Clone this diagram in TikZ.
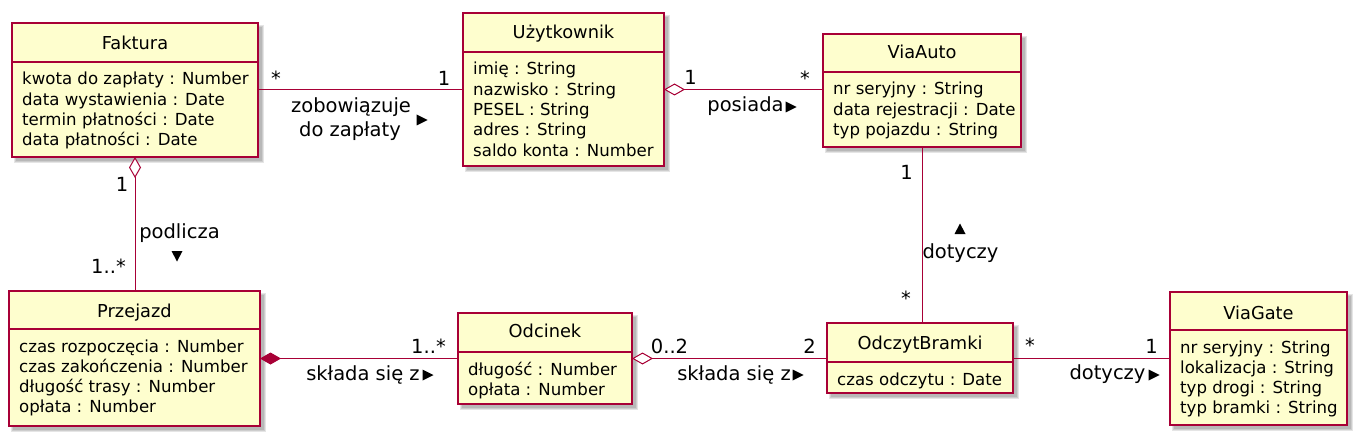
\documentclass[tikz,border=0pt]{standalone}
\usepackage{fontspec}
\setmainfont{DejaVu Sans}
\usetikzlibrary{arrows.meta}
\definecolor{umlred}{HTML}{A80036}
\definecolor{umlfill}{HTML}{FEFECE}
\tikzset{
  classbox/.style={draw=umlred, fill=umlfill, line width=1.5pt, inner sep=0pt, outer sep=0pt},
  divider/.style={draw=umlred, line width=1.5pt},
  titletext/.style={font=\fontsize{17.8}{20}\selectfont, inner sep=0pt, anchor=base},
  attrtext/.style={font=\fontsize{16.6}{20}\selectfont, inner sep=0pt, anchor=base west},
  lbl/.style={font=\fontsize{19.5}{22}\selectfont, inner sep=0pt, anchor=base},
  conn/.style={draw=umlred, line width=1pt},
  aggr/.style={conn, {Diamond[fill=white, length=21pt, width=12pt]}-},
  comp/.style={conn, {Diamond[fill=umlred, length=21pt, width=12pt]}-},
  shadowbox/.style={fill=black, opacity=0.10},
  tri/.style={fill=black},
}
\newcommand\umlclass[9]{%
  \fill[shadowbox] (#2+2,#3+2) rectangle (#4+6,#5+6);
  \fill[shadowbox] (#2+3,#3+3) rectangle (#4+5,#5+5);
  \fill[shadowbox] (#2+4,#3+4) rectangle (#4+4,#5+4);
  \node[classbox, minimum width={#4-#2}, minimum height={#5-#3}] (#1) at ({(#2+#4)/2},{(#3+#5)/2}) {};
  \draw[divider] (#2,#6) -- (#4,#6);
  \node[titletext] (#1-title) at ({(#2+#4)/2},#7) {#8};
  \foreach \attr [count=\i] in {#9} {\node[attrtext] (#1-attr\i) at (#2+10,{#6+23+(\i-1)*20.3}) {\attr};}
}
\newcommand\rtri[2]{\fill[tri] ({#1-5.5},{#2-5.5}) -- ({#1+5.5},{#2}) -- ({#1-5.5},{#2+5.5}) -- cycle;}
\newcommand\dtri[2]{\fill[tri] ({#1-5.5},{#2-5}) -- ({#1+5.5},{#2-5}) -- ({#1},{#2+5.5}) -- cycle;}
\newcommand\utri[2]{\fill[tri] ({#1-5.5},{#2+5}) -- ({#1+5.5},{#2+5}) -- ({#1},{#2-5.5}) -- cycle;}
\begin{document}
\begin{tikzpicture}[x=1pt,y=-1pt]
\useasboundingbox (0,0) rectangle (1362,441);
\fill[white] (0,0) rectangle (1362,441);

\umlclass{faktura}{12}{23}{258}{157}{62}{50}{Faktura}{kwota do zapłaty : Number, data wystawienia : Date, termin płatności : Date, data płatności : Date}
\umlclass{uzyt}{463}{13}{664}{166}{52}{39}{Użytkownik}{imię : String, nazwisko : String, PESEL : String, adres : String, saldo konta : Number}
\umlclass{viaauto}{823}{34}{1021}{147}{72}{59}{ViaAuto}{nr seryjny : String, data rejestracji : Date, typ pojazdu : String}
\umlclass{przejazd}{9}{291}{260}{426}{329}{317}{Przejazd}{czas rozpoczęcia : Number, czas zakończenia : Number, długość trasy : Number, opłata : Number}
\umlclass{odcinek}{458}{313}{632}{404}{352}{337}{Odcinek}{długość : Number, opłata : Number}
\umlclass{odczyt}{827}{323}{1013}{393}{362}{349}{OdczytBramki}{czas odczytu : Date}
\umlclass{viagate}{1170}{292}{1347}{425}{330}{319}{ViaGate}{nr seryjny : String, lokalizacja : String, typ drogi : String, typ bramki : String}

% connectors
\draw[conn] (faktura.east) -- (faktura.east -| uzyt.west);
\draw[aggr] (uzyt.east) -- (uzyt.east -| viaauto.west);
\draw[aggr] (faktura.south) -- (faktura.south |- przejazd.north);
\draw[comp] (przejazd.east) -- (przejazd.east -| odcinek.west);
\draw[aggr] (odcinek.east) -- (odcinek.east -| odczyt.west);
\draw[conn] (viaauto.south) -- (viaauto.south |- odczyt.north);
\draw[conn] (odczyt.east) -- (odczyt.east -| viagate.west);

% Faktura - Uzytkownik
\node[lbl] (m1a) at (276,86) {*};
\node[lbl] (m1b) at (444,86) {1};
\node[lbl] (l1a) at (351,113) {zobowiązuje};
\node[lbl] (l1b) at (350,137) {do zapłaty};
\rtri{422}{120}

% Uzytkownik - ViaAuto
\node[lbl] (m2a) at (690.5,85) {1};
\node[lbl] (m2b) at (805,86) {*};
\node[lbl] (l2) at (745.5,112) {posiada};
\rtri{791}{107}

% Faktura - Przejazd
\node[lbl] (m3a) at (122,191) {1};
\node[lbl] (m3b) at (108.5,273) {1..*};
\node[lbl] (l3) at (179.5,238) {podlicza};
\dtri{177}{256}

% Przejazd - Odcinek
\node[lbl] (m4) at (428.5,353) {1..*};
\node[lbl] (l4) at (363,380) {składa się z};
\rtri{428}{375}

% Odcinek - OdczytBramki
\node[lbl] (m5a) at (669.5,353) {0..2};
\node[lbl] (m5b) at (809.5,353) {2};
\node[lbl] (l5) at (734,380) {składa się z};
\rtri{798}{375}

% ViaAuto - OdczytBramki
\node[lbl] (m6a) at (906.5,179) {1};
\node[lbl] (m6b) at (906,305) {*};
\node[lbl] (l6) at (960.5,258) {dotyczy};
\utri{960}{229}

% OdczytBramki - ViaGate
\node[lbl] (m7a) at (1030,352) {*};
\node[lbl] (m7b) at (1151.5,353) {1};
\node[lbl] (l7) at (1107.5,379) {dotyczy};
\rtri{1154}{375}
\end{tikzpicture}
\end{document}
